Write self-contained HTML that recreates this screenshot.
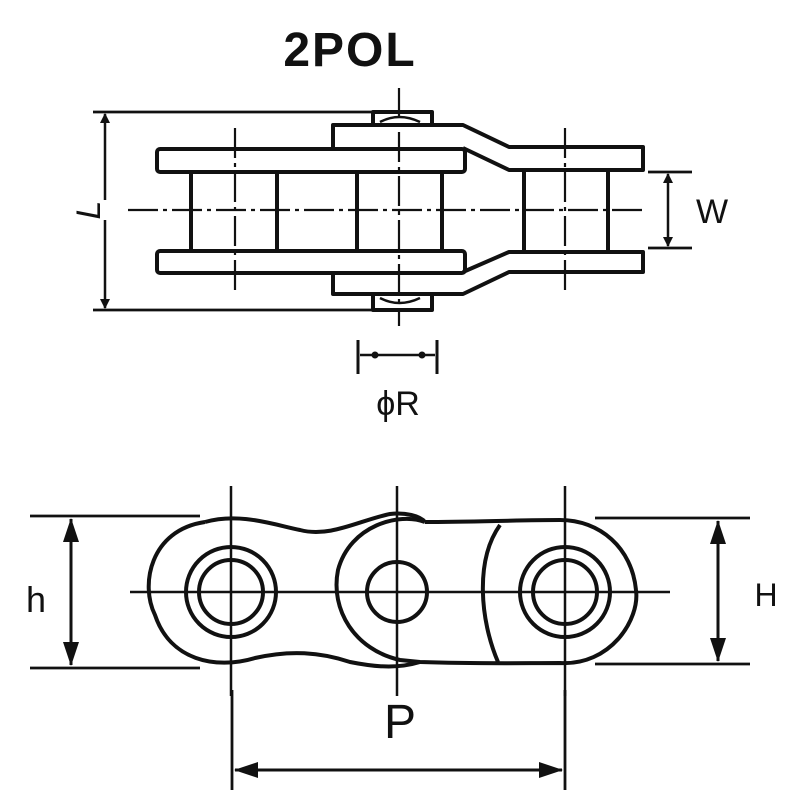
<!DOCTYPE html>
<html><head><meta charset="utf-8"><style>
html,body{margin:0;padding:0;background:#fff;}
svg{display:block;}
text{font-family:"Liberation Sans",sans-serif;fill:#111;}
</style></head><body>
<svg width="800" height="800" viewBox="0 0 800 800" xmlns="http://www.w3.org/2000/svg">
<defs>
<marker id="a" markerWidth="10" markerHeight="12" refX="9" refY="6" orient="auto" markerUnits="userSpaceOnUse" viewBox="0 0 10 12"><path d="M0,1 L10,6 L0,11 z" fill="#111"/></marker>
<marker id="b" markerWidth="24" markerHeight="16" refX="23" refY="8" orient="auto" markerUnits="userSpaceOnUse" viewBox="0 0 24 16"><path d="M0,0 L24,8 L0,16 z" fill="#111"/></marker>
</defs>
<text x="350" y="66" font-size="48" font-weight="bold" text-anchor="middle" letter-spacing="2">2POL</text>

<g stroke="#111" fill="none" stroke-width="4" stroke-linejoin="round">
<line x1="399" y1="88" x2="399" y2="326" stroke-width="2.2" stroke-dasharray="30,5,4,5"/>
<line x1="235" y1="128" x2="235" y2="292" stroke-width="2.2" stroke-dasharray="30,5,4,5"/>
<line x1="565" y1="128" x2="565" y2="292" stroke-width="2.2" stroke-dasharray="30,5,4,5"/>
<line x1="128" y1="210" x2="642" y2="210" stroke-width="2.2" stroke-dasharray="30,5,4,5"/>
<path d="M373,123 L373,112 L432,112 L432,123"/>
<path d="M373,295 L373,310 L432,310 L432,295"/>
<path d="M380,122 Q399,112 420,122" stroke-width="2.5"/>
<path d="M380,298 Q399,308 420,298" stroke-width="2.5"/>
<path d="M333,147 L333,125 L463,125 L509,147 L643,147 L643,170 L509,170 L463,148"/>
<path d="M333,272 L333,294 L463,294 L509,272 L643,272 L643,252 L509,252 L463,272"/>
<rect x="157" y="149" width="308" height="23" rx="3"/>
<rect x="157" y="251" width="308" height="22" rx="3"/>
<line x1="191" y1="172" x2="191" y2="251"/>
<line x1="277" y1="172" x2="277" y2="251"/>
<line x1="357" y1="172" x2="357" y2="251"/>
<line x1="442" y1="172" x2="442" y2="251"/>
<line x1="524" y1="170" x2="524" y2="252"/>
<line x1="608" y1="170" x2="608" y2="252"/>
<line x1="93" y1="112" x2="373" y2="112" stroke-width="2.8"/>
<line x1="93" y1="310" x2="373" y2="310" stroke-width="2.8"/>
<line x1="105" y1="200" x2="105" y2="114" stroke-width="2.5" marker-end="url(#a)"/>
<line x1="105" y1="220" x2="105" y2="308" stroke-width="2.5" marker-end="url(#a)"/>
<line x1="648" y1="172" x2="692" y2="172" stroke-width="2.8"/>
<line x1="648" y1="248" x2="692" y2="248" stroke-width="2.8"/>
<line x1="668" y1="210" x2="668" y2="174" stroke-width="2.5" marker-end="url(#a)"/>
<line x1="668" y1="210" x2="668" y2="246" stroke-width="2.5" marker-end="url(#a)"/>
<line x1="358" y1="340" x2="358" y2="374" stroke-width="3"/>
<line x1="437" y1="340" x2="437" y2="374" stroke-width="3"/>
<line x1="360" y1="355" x2="435" y2="355" stroke-width="2.5"/>
<circle cx="375" cy="355" r="3.5" fill="#111" stroke="none"/>
<circle cx="422" cy="355" r="3.5" fill="#111" stroke="none"/>
</g>
<text x="88" y="210" font-size="34" font-style="italic" text-anchor="middle" transform="rotate(-90 88 210)" dy="12">L</text>
<text x="712" y="223" font-size="34" text-anchor="middle">W</text>
<text x="398" y="415" font-size="34" text-anchor="middle">ϕR</text>

<g stroke="#111" fill="none" stroke-width="4" stroke-linejoin="round">
<line x1="231" y1="486" x2="231" y2="696" stroke-width="2.5"/>
<line x1="397" y1="486" x2="397" y2="696" stroke-width="2.5"/>
<line x1="565" y1="486" x2="565" y2="696" stroke-width="2.5"/>
<line x1="130" y1="592" x2="670" y2="592" stroke-width="2.5"/>
<path d="M205,522 C150,530 140,585 155,615 C170,660 215,670 255,658 C290,650 320,652 350,662 C380,668 400,668 420,662"/>
<path d="M205,522 C240,512 275,525 300,530 C330,538 360,520 390,514 C405,512 420,516 425,522"/>
<path d="M425,522 C400,512 350,525 338,570 C330,610 355,650 400,660 L420,662 C480,664 520,663 560,663 C610,666 640,620 636,590 C632,548 600,520 560,520 C520,520 470,522 425,522"/>
<path d="M500,525 C475,560 480,620 498,662"/>
<circle cx="231" cy="592" r="45"/>
<circle cx="231" cy="592" r="32"/>
<circle cx="397" cy="592" r="30"/>
<circle cx="565" cy="592" r="45"/>
<circle cx="565" cy="592" r="32"/>
<line x1="30" y1="516" x2="200" y2="516" stroke-width="2.8"/>
<line x1="30" y1="668" x2="200" y2="668" stroke-width="2.8"/>
<line x1="71" y1="592" x2="71" y2="519" stroke-width="3" marker-end="url(#b)"/>
<line x1="71" y1="592" x2="71" y2="665" stroke-width="3" marker-end="url(#b)"/>
<line x1="595" y1="518" x2="750" y2="518" stroke-width="2.8"/>
<line x1="595" y1="664" x2="750" y2="664" stroke-width="2.8"/>
<line x1="718" y1="592" x2="718" y2="521" stroke-width="3" marker-end="url(#b)"/>
<line x1="718" y1="592" x2="718" y2="661" stroke-width="3" marker-end="url(#b)"/>
<line x1="232" y1="690" x2="232" y2="790" stroke-width="2.8"/>
<line x1="565" y1="690" x2="565" y2="790" stroke-width="2.8"/>
<line x1="398" y1="770" x2="235" y2="770" stroke-width="3" marker-end="url(#b)"/>
<line x1="398" y1="770" x2="562" y2="770" stroke-width="3" marker-end="url(#b)"/>
</g>
<text x="36" y="612" font-size="36" text-anchor="middle">h</text>
<text x="766" y="606" font-size="32" text-anchor="middle">H</text>
<text x="400" y="738" font-size="48" text-anchor="middle">P</text>
</svg>
</body></html>
